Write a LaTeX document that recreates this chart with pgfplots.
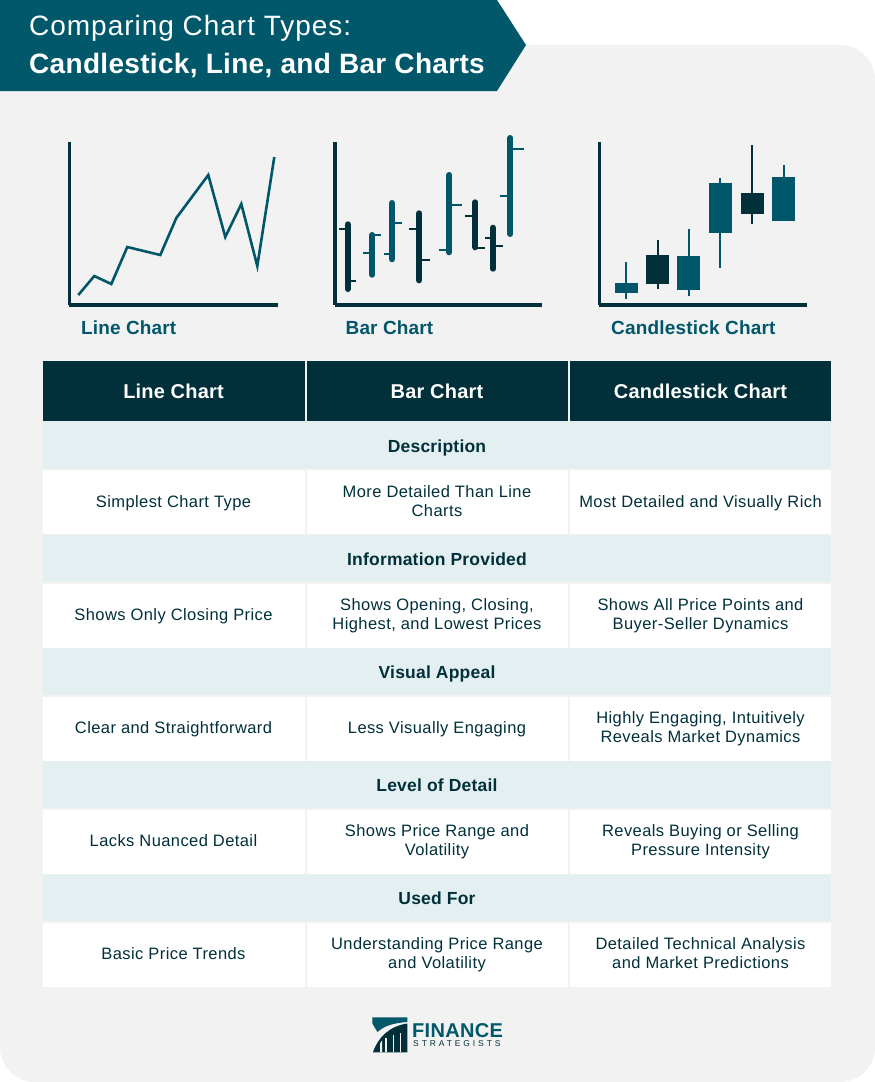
\documentclass[border=0pt]{standalone}
\usepackage{fontspec}
\setmainfont{Liberation Sans}
\usepackage{pgfplots}
\pgfplotsset{compat=1.18}
\definecolor{banner}{HTML}{01586A}
\definecolor{dk}{HTML}{01303B}
\definecolor{tl}{HTML}{01566A}
\definecolor{sec}{HTML}{E4EFF1}
\definecolor{bgp}{HTML}{F2F2F2}
\newfontfamily\bodyf[LetterSpace=2.5]{Liberation Sans}
\newcommand{\fs}[1]{\fontsize{#1}{#1}\selectfont}
\pgfplotsset{mini/.style={clip=false,scale only axis,axis lines=left,axis line style={-,line width=3.6pt,color=dk},
  xtick=\empty,ytick=\empty,ymin=0,ymax=163,xmin=0}}
\begin{document}
\begin{tikzpicture}
\begin{scope}[x=1pt,y=-1pt]
\path[use as bounding box] (0,0) rectangle (875,1082);
\fill[white] (0,0) rectangle (875,1082);
\fill[bgp,rounded corners=35pt] (0,45) rectangle (875,1082);
\fill[bgp] (0,45) rectangle (100,100);
\fill[banner] (0,0)--(497,0)--(526,45)--(497,91)--(0,91)--cycle;
\node[anchor=base west,text=white,inner sep=0pt] at (29,35.7) {\fs{28}\addfontfeature{LetterSpace=3.5}Comparing Chart Types:};
\node[anchor=base west,text=white,inner sep=0pt] at (29,73.5) {\fs{28}\bfseries\addfontfeature{LetterSpace=1.15}Candlestick, Line, and Bar Charts};
% labels
\node[anchor=base west,text=tl,inner sep=0pt] at (81,334) {\fs{19}\bfseries\addfontfeature{LetterSpace=0.7}Line Chart};
\node[anchor=base west,text=tl,inner sep=0pt] at (345.5,334) {\fs{19}\bfseries\addfontfeature{LetterSpace=0.7}Bar Chart};
\node[anchor=base west,text=tl,inner sep=0pt] at (611,334) {\fs{19}\bfseries\addfontfeature{LetterSpace=1}Candlestick Chart};
% table
\foreach \a/\b in {43/304.5,307/567.5,570/831}{
  \fill[dk] (\a,361) rectangle (\b,421);
}
\foreach \t in {421,534.5,647.5,760.5,873.5}{
  \fill[sec] (43,\t) rectangle (831,\t+47.5);
  \foreach \a/\b in {43/304.5,307/567.5,570/831}{\fill[white] (\a,\t+49) rectangle (\b,\t+113);}
}
\foreach \x/\s in {173.5/Line Chart,437/Bar Chart,700.5/Candlestick Chart}{
  \node[anchor=base,text=white,inner sep=0pt] at (\x,398) {\fs{20}\bfseries\addfontfeature{LetterSpace=1}\s};
}
\foreach \y/\s in {452/Description,565/Information Provided,678/Visual Appeal,791/Level of Detail,904/Used For}{
  \node[anchor=base,text=dk,inner sep=0pt] at (437,\y) {\fs{17.5}\bfseries\addfontfeature{LetterSpace=1.2}\s};
}
\tikzset{cell/.style={text=dk,inner sep=0pt,align=center,text height=14pt,text depth=3pt,font=\bodyf\fontsize{16.5}{19.5}\selectfont},
  cellb/.style={cell,yshift=-9.75pt}}
\node[cell] at (173.5,501.5) {Simplest Chart Type};
\node[cellb] at (437,501.5) {More Detailed Than Line\\Charts};
\node[cell] at (700.5,501.5) {Most Detailed and Visually Rich};
\node[cell] at (173.5,614.5) {Shows Only Closing Price};
\node[cellb] at (437,614.5) {Shows Opening, Closing,\\Highest, and Lowest Prices};
\node[cellb] at (700.5,614.5) {Shows All Price Points and\\Buyer-Seller Dynamics};
\node[cell] at (173.5,727.5) {Clear and Straightforward};
\node[cell] at (437,727.5) {Less Visually Engaging};
\node[cellb] at (700.5,727.5) {Highly Engaging, Intuitively\\Reveals Market Dynamics};
\node[cell] at (173.5,840.5) {Lacks Nuanced Detail};
\node[cellb] at (437,840.5) {Shows Price Range and\\Volatility};
\node[cellb] at (700.5,840.5) {Reveals Buying or Selling\\Pressure Intensity};
\node[cell] at (173.5,953.5) {Basic Price Trends};
\node[cellb] at (437,953.5) {Understanding Price Range\\and Volatility};
\node[cellb] at (700.5,953.5) {Detailed Technical Analysis\\and Market Predictions};
% logo
\fill[banner] (372.3,1017.3)--(407.3,1017.3)--(407.3,1022) .. controls (393,1023) and (384,1026) .. (377.5,1032)--(372.3,1023.5)--cycle;
\fill[dk] (373,1052.3) .. controls (378,1037) and (390,1026) .. (407.3,1023.5)--(407.3,1052.3)--cycle;
\fill[bgp] (380,1052.3)--(380,1044) .. controls (381,1041.5) and (381.5,1041) .. (382,1040.5)--(382,1052.3)--cycle;
\fill[bgp] (385.3,1052.3) rectangle (387,1038);
\fill[bgp] (392.5,1052.3) rectangle (394.2,1035);
\fill[bgp] (399.7,1052.3) rectangle (401.4,1033);
\node[anchor=base west,text=banner,inner sep=0pt] at (412,1037.7) {\fs{20}\bfseries\addfontfeature{LetterSpace=1.5}FINANCE};
\node[anchor=base west,text=dk,inner sep=0pt] at (413,1046.7) {\fs{8.5}\addfontfeature{LetterSpace=34}STRATEGISTS};
\end{scope}
% line chart
\begin{axis}[mini,at={(69.3pt,-305pt)},anchor=origin,width=209pt,height=163pt,xmax=209]
\addplot[tl,line width=2.6pt,line join=miter,no marks] coordinates {
(9,10)(25,29)(42,21)(58,58)(91,50)(107,87)(139,130)(156,68)(172,101)(188,39)(205,148)};
\end{axis}
% bar chart
\begin{axis}[mini,at={(334.7pt,-305pt)},anchor=origin,width=207.3pt,height=163pt,xmax=207.3,unbounded coords=jump]
\addplot[dk,line width=6pt,line cap=round,no marks] coordinates {
(13,80.7)(13,16)(13,nan)
(84.6,91.7)(84.6,24.7)(84.6,nan)
(140.6,102.7)(140.6,57.7)(140.6,nan)
(158.3,77.3)(158.3,36.3)};
\addplot[tl,line width=6pt,line cap=round,no marks] coordinates {
(37.6,70)(37.6,30.3)(37.6,nan)
(57.3,102)(57.3,45.7)(57.3,nan)
(114.6,130)(114.6,52.7)(114.6,nan)
(175.6,167)(175.6,71)};
\addplot[dk,line width=2.3pt,no marks] coordinates {
(4.6,76.3)(13,76.3)(13,nan)
(13,24.3)(21,24.3)(21,nan)
(74.6,75.7)(84.6,75.7)(84.6,nan)
(84.6,44.7)(95,44.7)(95,nan)
(130.6,89.3)(140.6,89.3)(140.6,nan)
(140.6,57)(150,57)(150,nan)
(150.3,67.3)(158.3,67.3)(158.3,nan)
(158.3,59)(168.3,59)};
\addplot[tl,line width=2.3pt,no marks] coordinates {
(28.3,52.3)(37.6,52.3)(37.6,nan)
(37.6,70.3)(46,70.3)(46,nan)
(49,50.7)(57.3,50.7)(57.3,nan)
(57.3,81.7)(67,81.7)(67,nan)
(104.3,54.7)(114.6,54.7)(114.6,nan)
(114.6,99.7)(127,99.7)(127,nan)
(165,109.3)(175.6,109.3)(175.6,nan)
(175.6,156)(189,156)};
\end{axis}
% candlestick chart
\begin{axis}[mini,at={(599.3pt,-305pt)},anchor=origin,width=207.4pt,height=163pt,xmax=207.4,unbounded coords=jump]
\addplot[tl,line width=2pt,no marks] coordinates {
(26.7,42.7)(26.7,6.3)(26.7,nan)
(89.4,76.3)(89.4,9)(89.4,nan)
(120.7,126.7)(120.7,37.3)(120.7,nan)
(184.4,139.7)(184.4,84)};
\addplot[dk,line width=2pt,no marks] coordinates {
(58.4,64.7)(58.4,15.7)(58.4,nan)
(152.7,160)(152.7,81.3)};
\addplot[tl,line width=23pt,no marks] coordinates {
(26.7,22)(26.7,12)(26.7,nan)
(89.4,49)(89.4,15)(89.4,nan)
(120.7,122.3)(120.7,71.7)(120.7,nan)
(184.4,128)(184.4,84)};
\addplot[dk,line width=23pt,no marks] coordinates {
(58.4,50.3)(58.4,21.3)(58.4,nan)
(152.7,112)(152.7,90.7)};
\end{axis}
\end{tikzpicture}
\end{document}
